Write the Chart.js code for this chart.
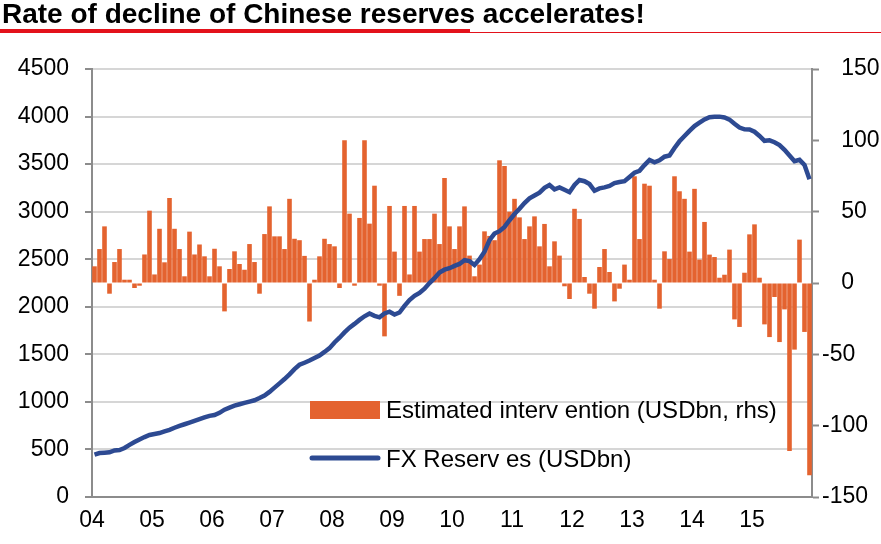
<!DOCTYPE html>
<html>
<head>
<meta charset="utf-8">
<script src="https://cdn.jsdelivr.net/npm/chart.js@4.4.1/dist/chart.umd.min.js"></script>
<style>
  html, body { margin: 0; padding: 0; background: #fff; }
  #wrap { position: relative; width: 881px; height: 544px; overflow: hidden; }
  #title { position: absolute; left: 2px; top: 0px; font: bold 28px "Liberation Sans", Arial, sans-serif; line-height: 28px; color: #000; white-space: nowrap; }
  #redThick { position: absolute; left: 0; top: 29px; width: 470px; height: 4px; background: #E3121B; }
  #redThin { position: absolute; left: 470px; top: 32px; width: 411px; height: 1px; background: #E3121B; }
  canvas { position: absolute; left: 0; top: 0; }
</style>
</head>
<body>
<div id="wrap">
  <canvas id="c" width="881" height="544"></canvas>
  <div id="title">Rate of decline of Chinese reserves accelerates!</div>
  <div id="redThick"></div>
  <div id="redThin"></div>
</div>
<script>
// ---- DATA ----
const yearLabels = ['04','05','06','07','08','09','10','11','12','13','14','15'];
const monthNames = ['Jan','Feb','Mar','Apr','May','Jun','Jul','Aug','Sep','Oct','Nov','Dec'];

// Estimated intervention (USDbn, rhs), monthly Jan 2004 - Dec 2015
const intervention = [
  11.7, 23.8, 39.7, -7.5, 14.7, 23.8, 2.3, 2.3, -3.5, -1.9, 20, 50.7,
  6, 38, 14.5, 59.6, 38, 23.8, 4.7, 36, 20, 27, 18.7, 4.7,
  24, 11.7, -19.9, 9.8, 22.2, 13.3, 9.3, 27.3, 14.7, -7.5, 34.3, 53.7,
  32.7, 32.7, 23.8, 59, 31, 30, 19, -27, 2.3, 18.7, 31, 27.3,
  25.7, -3.5, 100, 48.6, -1.9, 45.6, 100, 41.6, 68.2, -1.9, -37.4, 54,
  22, -9, 54, 6, 54, 22, 30.8, 30.8, 48.6, 27.3, 73.6, 39.7,
  23.8, 39.7, 53.7, 19.2, 4.7, 12.9, 36.2, 33, 30, 86, 82, 50,
  59, 46, 30.8, 39.7, 46.7, 25.7, 41.4, 11.7, 29.2, 19.2, -2.3, -11.2,
  52, 44.9, 4.2, -7.5, -18, 11.2, 23.8, 7.7, -12.9, -4, 12.9, 2.3,
  74.8, 30.8, 69.6, 68.2, 2.3, -18, 22.2, 16.8, 74.8, 64.3, 59, 22,
  66, 16.4, 42.8, 19.9, 18.2, 3.7, 5.8, 23.4, -25.5, -30.8, 7.2, 34.1,
  41.1, 3.7, -29, -37.9, -9.8, -41.4, -18.5, -117.8, -46.7, 30.4, -34.3, -134.8
];

// FX Reserves (USDbn), monthly Jan 2004 - Dec 2015
const reserves = [
  445, 462, 466, 470, 490, 494, 515, 548, 578, 605, 630, 652,
  663, 672, 690, 706, 728, 748, 765, 782, 800, 818, 836, 853,
  862, 885, 918, 940, 960, 975, 990, 1003, 1017, 1040, 1066, 1105,
  1150, 1195, 1240, 1290, 1345, 1390, 1412, 1435, 1462, 1488, 1525, 1565,
  1625, 1675, 1730, 1780, 1820, 1862, 1900, 1930, 1905, 1889, 1930, 1948,
  1918, 1940, 2010, 2071, 2115, 2145, 2190, 2250, 2300, 2360, 2390, 2405,
  2430, 2450, 2490, 2480, 2440, 2500, 2580, 2700, 2770, 2795, 2840, 2910,
  2975, 3030, 3090, 3140, 3170, 3200, 3250, 3280, 3235, 3255, 3230, 3205,
  3280, 3333, 3320, 3290, 3220, 3245, 3255, 3270, 3300, 3312, 3320, 3365,
  3410, 3430, 3490, 3543, 3518, 3540, 3578, 3590, 3670, 3740, 3795, 3850,
  3900, 3935, 3970, 3993, 3998, 3999, 3990, 3968, 3925, 3885, 3866, 3865,
  3840, 3796, 3745, 3750, 3730, 3700, 3650, 3590, 3530, 3545, 3490, 3340
];

const leftTicks = [0, 4500, 500];     // min, max, step
const rightTicks = [-150, 150, 50];   // min, max, step

const seriesNames = ['Estimated interv ention (USDbn, rhs)', 'FX Reserv es (USDbn)'];

// ---- BUILD ----
const labels = [];
yearLabels.forEach(y => monthNames.forEach(m => labels.push(m + ' ' + y)));

const FONT = '"Liberation Sans", Arial, sans-serif';
const BAR = '#E4632F';
const LINE = '#2D4A92';
const AXIS = '#8C8C8C';
const GRID = '#D6D6D6';

const legendPlugin = {
  id: 'customLegend',
  afterDraw(chart) {
    const ctx = chart.ctx;
    const a = chart.chartArea;
    const x0 = a.left + 218;
    ctx.save();
    ctx.fillStyle = BAR;
    ctx.fillRect(x0, 401, 70, 18);
    ctx.strokeStyle = LINE;
    ctx.lineWidth = 5;
    ctx.lineCap = 'round';
    ctx.beginPath();
    ctx.moveTo(x0 + 2, 458);
    ctx.lineTo(x0 + 68, 458);
    ctx.stroke();
    ctx.fillStyle = '#000';
    ctx.font = '24px ' + FONT;
    ctx.textBaseline = 'middle';
    ctx.textAlign = 'left';
    ctx.fillText(seriesNames[0], x0 + 76, 411);
    ctx.fillText(seriesNames[1], x0 + 76, 460);
    ctx.restore();
  }
};

new Chart(document.getElementById('c'), {
  data: {
    labels: labels,
    datasets: [
      {
        type: 'line',
        label: seriesNames[1],
        data: reserves,
        yAxisID: 'yL',
        borderColor: LINE,
        borderWidth: 4.5,
        pointRadius: 0,
        tension: 0,
        order: 0
      },
      {
        type: 'bar',
        label: seriesNames[0],
        data: intervention,
        yAxisID: 'yR',
        backgroundColor: BAR,
        borderWidth: 0,
        categoryPercentage: 1.0,
        barPercentage: 0.92,
        order: 1
      }
    ]
  },
  options: {
    responsive: false,
    animation: false,
    devicePixelRatio: 1,
    layout: { padding: { top: 69, left: 0, right: 0, bottom: 0 } },
    plugins: { legend: { display: false }, tooltip: { enabled: false } },
    scales: {
      x: {
        type: 'category',
        offset: true,
        afterFit(s) { s.height = 47; },
        border: { color: AXIS, width: 2 },
        grid: {
          offset: true,
          drawOnChartArea: false,
          drawTicks: true,
          tickLength: 7,
          tickWidth: 2,
          color: ctx => (ctx.index % 12 === 0 ? AXIS : 'rgba(0,0,0,0)'),
          tickColor: ctx => (ctx.index % 12 === 0 ? AXIS : 'rgba(0,0,0,0)'),
          lineWidth: 2
        },
        ticks: {
          autoSkip: false,
          maxRotation: 0,
          minRotation: 0,
          padding: 3,
          labelOffset: -2.5,
          color: '#000',
          font: { family: FONT, size: 23 },
          callback: (v, i) => (i % 12 === 0 ? yearLabels[i / 12] : null)
        }
      },
      yL: {
        type: 'linear',
        position: 'left',
        min: leftTicks[0],
        max: leftTicks[1],
        afterFit(s) { s.width = 92; },
        border: { color: AXIS, width: 2 },
        grid: { color: GRID, lineWidth: 2, tickColor: AXIS, tickLength: 7, tickWidth: 2 },
        ticks: {
          stepSize: leftTicks[2],
          padding: 16,
          color: '#000',
          font: { family: FONT, size: 23 },
          callback: v => String(v)
        }
      },
      yR: {
        type: 'linear',
        position: 'right',
        min: rightTicks[0],
        max: rightTicks[1],
        afterFit(s) { s.width = 69; },
        border: { color: AXIS, width: 2 },
        grid: { drawOnChartArea: false, tickColor: AXIS, tickLength: 7, tickWidth: 2 },
        ticks: {
          stepSize: rightTicks[2],
          padding: 3,
          color: '#000',
          font: { family: FONT, size: 23 },
          callback: v => (v >= 0 ? '\u2007 ' + v : String(v))
        }
      }
    }
  },
  plugins: [legendPlugin]
});
</script>
</body>
</html>
